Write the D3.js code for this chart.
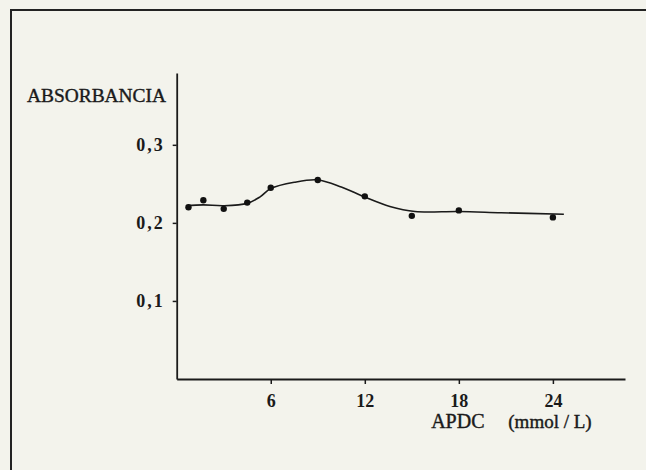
<!DOCTYPE html>
<html>
<head>
<meta charset="utf-8">
<script src="https://cdn.jsdelivr.net/npm/d3@7"></script>
<style>
  body { margin: 0; background: #f3f3ec; }
  svg { display: block; }
  text { font-family: "Liberation Serif", "Times New Roman", serif; fill: #1a1a1a; }
</style>
</head>
<body>
<script>
// measured points
const apdc = [0.75, 1.7, 3, 4.5, 6, 9, 12, 15, 18, 24]
const absorb = [0.220, 0.229, 0.218, 0.226, 0.245, 0.255, 0.234, 0.209, 0.216, 0.207]

// fitted curve
const curveX = [0.6, 1.7, 3, 4.5, 5.3, 6, 7.5, 9, 10.5, 12, 13.6, 15.2, 18, 20.7, 24.7]
const curveY = [0.222, 0.223, 0.222, 0.225, 0.233, 0.244, 0.252, 0.255, 0.246, 0.233, 0.221, 0.2145, 0.2145, 0.213, 0.211]

const xTicks = [6, 12, 18, 24]
const yTicks = [0.1, 0.2, 0.3]
const yTickLabels = ["0,1", "0,2", "0,3"]

const svg = d3.select("body")
              .append("svg")
              .attr("width", 646)
              .attr("height", 470)

// frame (top + left only, like the scan)
svg.append("path")
   .attr("d", "M11,470 V10 H646")
   .attr("fill", "none")
   .attr("stroke", "#222")
   .attr("stroke-width", 2)

const x = d3.scaleLinear().domain([0, 28.6]).range([176.7, 625])
const y = d3.scaleLinear().domain([0, 0.392]).range([379, 73])

const xAxis = d3.axisBottom(x)
                .tickValues(xTicks)
                .tickSizeInner(5)
                .tickSizeOuter(0)
                .tickPadding(10)

const yAxis = d3.axisLeft(y)
                .tickValues(yTicks)
                .tickFormat((d, i) => yTickLabels[i])
                .tickSizeInner(4)
                .tickSizeOuter(0)
                .tickPadding(8)

const gx = svg.append("g")
              .attr("transform", "translate(0," + y(0) + ")")
              .call(xAxis)

const gy = svg.append("g")
              .attr("transform", "translate(" + x(0) + ",0)")
              .call(yAxis)

;[gx, gy].forEach(g => {
    g.select(".domain").attr("stroke", "#1a1a1a").attr("stroke-width", 1.8)
    g.selectAll(".tick line").attr("stroke", "#1a1a1a").attr("stroke-width", 1.5)
    g.selectAll(".tick text")
     .attr("font-size", 18)
     .attr("font-weight", "bold")
     .attr("fill", "#1a1a1a")
})
gy.selectAll(".tick text").attr("letter-spacing", 2)

// fitted line
const curve = curveX.map((d, i) => [d, curveY[i]])
svg.append("path")
   .datum(curve)
   .attr("fill", "none")
   .attr("stroke", "#1a1a1a")
   .attr("stroke-width", 1.6)
   .attr("d", d3.line()
                .x(d => x(d[0]))
                .y(d => y(d[1]))
                .curve(d3.curveCatmullRom.alpha(0.5)))

svg.append("g")
   .selectAll("circle")
   .data(apdc)
   .enter()
   .append("circle")
   .attr("cx", d => x(d))
   .attr("cy", (d, i) => y(absorb[i]))
   .attr("r", 3.2)
   .attr("fill", "#111")

const label = (tx, ty, txt, size, anchor) =>
    svg.append("text")
       .attr("x", tx)
       .attr("y", ty)
       .attr("font-size", size)
       .attr("text-anchor", anchor)
       .attr("stroke", "#1a1a1a")
       .attr("stroke-width", 0.4)
       .text(txt)

label(27, 102, "ABSORBANCIA", 19.4, "start")
label(x(18) - 1, 428, "APDC", 20, "middle")
label(550, 428, "(mmol / L)", 19, "middle")
</script>
</body>
</html>
